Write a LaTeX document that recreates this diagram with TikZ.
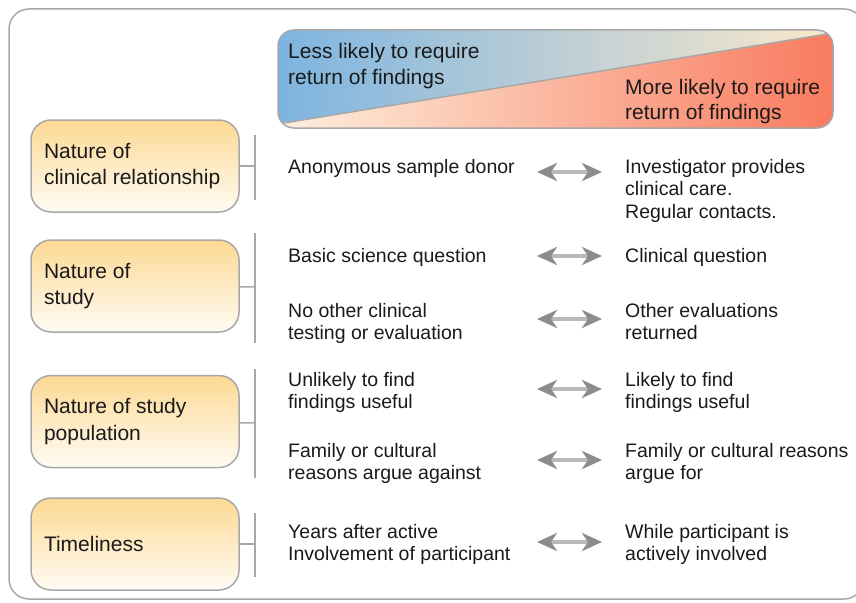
\documentclass[tikz,border=0pt]{standalone}
\usepackage{fontspec}
\setmainfont{Liberation Sans}
\usetikzlibrary{arrows.meta}
\usetikzlibrary{calc}

\definecolor{framegray}{HTML}{A8A8A8}
\definecolor{lessblue}{HTML}{7DB4E0}
\definecolor{midgray}{HTML}{CDD3D6}
\definecolor{cream}{HTML}{FBE8CB}
\definecolor{palecream}{HTML}{FDF0DE}
\definecolor{peach}{HTML}{FDC1A1}
\definecolor{moresalmon}{HTML}{F97B5F}
\definecolor{boxtop}{HTML}{FDD993}
\definecolor{boxbottom}{HTML}{FFFBF4}
\definecolor{inkblack}{HTML}{1A1A1A}

\tikzset{
	catbox/.style={draw=framegray, line width=1.5pt, rounded corners=20pt, top color=boxtop, bottom color=boxbottom, minimum width=208pt, minimum height=92pt, text width=182pt, inner xsep=13pt, align=flush left, font=\fontsize{21}{26.5}\selectfont, text=inkblack},
	pointtext/.style={anchor=base west, inner sep=0pt, text width=240pt, align=flush left, font=\fontsize{19.5}{22.5}\selectfont, text=inkblack},
	bannertext/.style={pointtext, font=\fontsize{21}{25}\selectfont},
	bracket/.style={draw=framegray, line width=1.5pt},
	twoway/.style={line width=4.5pt, draw=gray!55, {Stealth[length=20pt, width=18pt, inset=6pt, color=gray!90]}-{Stealth[length=20pt, width=18pt, inset=6pt, color=gray!90]}}
}

\begin{document}
\begin{tikzpicture}[x=1pt, y=-1pt]
	\useasboundingbox (0,0) rectangle (856,602);
	\clip (0,0) rectangle (856,602);
	\draw [framegray, line width=1.5pt, rounded corners=20pt] (9,9) rectangle (864,599);
	\begin{scope}
		\clip [rounded corners=16pt] (278,30) rectangle (833,128);
		\shade [left color=lessblue, middle color=midgray, right color=cream] (278,30) -- (833,30) -- (833,33) -- (278,124) -- cycle;
		\shade [left color=palecream, middle color=peach, right color=moresalmon] (278,124) -- (833,33) -- (833,128) -- (278,128) -- cycle;
		\draw [framegray, line width=1.5pt] (278,124) -- (833,33);
	\end{scope}
	\draw [framegray, line width=1.5pt, rounded corners=16pt] (278,30) rectangle (833,128);
	\node [bannertext] (less) at (288,59) {Less likely to require\\return of findings};
	\node [bannertext] (more) at (625,94) {More likely to require\\return of findings};

	\node [catbox] (relation) at (135,166) {Nature of\\clinical relationship};
	\node [catbox] (study) at (135,286) {Nature of\\study};
	\node [catbox] (population) at (135,421.5) {Nature of study\\population};
	\node [catbox] (timeliness) at (135,544) {Timeliness};

	\coordinate (k1) at (255,166);
	\coordinate (k2) at (255,287);
	\coordinate (k3) at (255,423);
	\coordinate (k4) at (255,544);
	\draw [bracket] (relation) -- (k1);
	\draw [bracket] (study) -- (k2);
	\draw [bracket] (population) -- (k3);
	\draw [bracket] (timeliness) -- (k4);
	\draw [bracket] ($(k1)+(0,-31)$) -- ($(k1)+(0,34)$);
	\draw [bracket] ($(k2)+(0,-54)$) -- ($(k2)+(0,56)$);
	\draw [bracket] ($(k3)+(0,-54)$) -- ($(k3)+(0,55)$);
	\draw [bracket] ($(k4)+(0,-31)$) -- ($(k4)+(0,33)$);

	\node [pointtext] (donor) at (288,173) {Anonymous sample donor};
	\node [pointtext] (basic) at (288,262) {Basic science question};
	\node [pointtext] (notesting) at (288,317) {No other clinical\\testing or evaluation};
	\node [pointtext] (unlikely) at (288,386) {Unlikely to find\\findings useful};
	\node [pointtext] (against) at (288,457) {Family or cultural\\reasons argue against};
	\node [pointtext] (years) at (288,538) {Years after active\\Involvement of participant};

	\node [pointtext] (care) at (625,173) {Investigator provides\\clinical care.\\Regular contacts.};
	\node [pointtext] (clinical) at (625,262) {Clinical question};
	\node [pointtext] (evaluations) at (625,317) {Other evaluations\\returned};
	\node [pointtext] (likely) at (625,386) {Likely to find\\findings useful};
	\node [pointtext] (argfor) at (625,457) {Family or cultural reasons\\argue for};
	\node [pointtext] (active) at (625,538) {While participant is\\actively involved};

	\foreach \n/\y in {1/172, 2/256, 3/319, 4/389, 5/460, 6/542} {
		\coordinate (l\n) at (537,\y);
		\coordinate (r\n) at (602,\y);
		\draw [twoway] (l\n) -- (r\n);
	}
\end{tikzpicture}
\end{document}
